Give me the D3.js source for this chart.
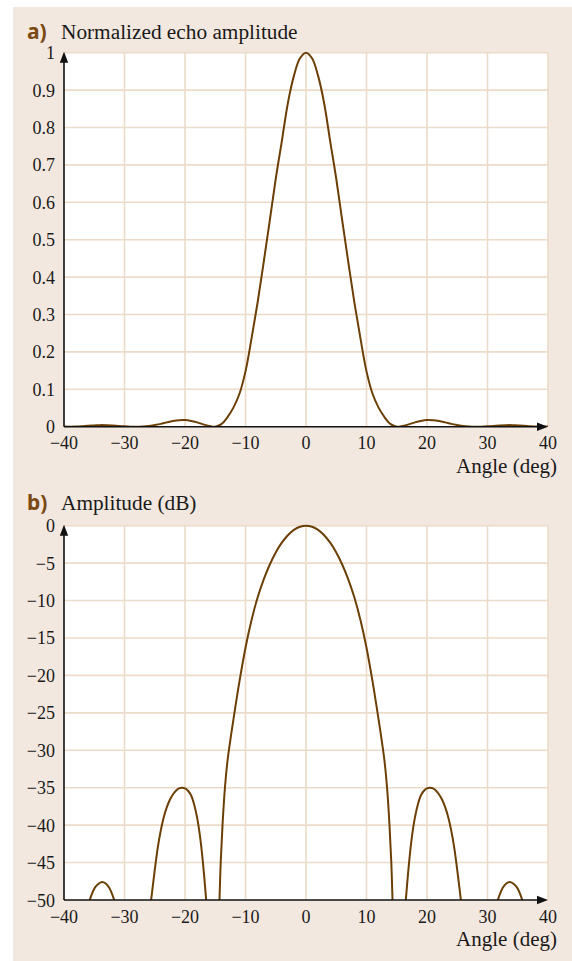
<!DOCTYPE html>
<html>
<head>
<meta charset="utf-8">
<script src="https://cdn.jsdelivr.net/npm/d3@7"></script>
<style>
  html, body { margin: 0; padding: 0; background: #ffffff; }
  svg { display: block; }
</style>
</head>
<body>
<svg id="chart" width="572" height="961"></svg>
<script>
// ---------- data ----------
const xTicks = [-40, -30, -20, -10, 0, 10, 20, 30, 40];
const yTicksA = [0, 0.1, 0.2, 0.3, 0.4, 0.5, 0.6, 0.7, 0.8, 0.9, 1];
const yTickLabelsA = ["0", "0.1", "0.2", "0.3", "0.4", "0.5", "0.6", "0.7", "0.8", "0.9", "1"];
const yTicksB = [0, -5, -10, -15, -20, -25, -30, -35, -40, -45, -50];

// panel a: normalized echo amplitude
const angleA = [-40, -39, -38, -37, -36, -35, -34, -33, -32, -31, -30, -29, -28, -27, -26, -25, -24, -23, -22, -21, -20, -19, -18, -17, -16, -15, -14, -13, -12, -11, -10, -9, -8, -7, -6, -5, -4, -3, -2, -1, 0,
  1, 2, 3, 4, 5, 6, 7, 8, 9, 10, 11, 12, 13, 14, 15, 16, 17, 18, 19, 20, 21, 22, 23, 24, 25, 26, 27, 28, 29, 30, 31, 32, 33, 34, 35, 36, 37, 38, 39, 40];
const amplitude = [0.0005, 0.0002, 0.0005, 0.0015, 0.0028, 0.0035, 0.0042, 0.0040, 0.0033, 0.0020, 0.0009, 0.0002, 0.0002, 0.0008, 0.0020, 0.0045, 0.0075, 0.0115, 0.0150, 0.0173, 0.0176, 0.0155, 0.0115, 0.0062, 0.0020, 0.0, 0.0068, 0.025, 0.051, 0.088, 0.148, 0.236, 0.332, 0.439, 0.550, 0.663, 0.763, 0.865, 0.938, 0.985, 1.0,
  0.985, 0.938, 0.865, 0.763, 0.663, 0.550, 0.439, 0.332, 0.236, 0.148, 0.088, 0.051, 0.025, 0.0068, 0.0, 0.0020, 0.0062, 0.0115, 0.0155, 0.0176, 0.0173, 0.0150, 0.0115, 0.0075, 0.0045, 0.0020, 0.0008, 0.0002, 0.0002, 0.0009, 0.0020, 0.0033, 0.0040, 0.0042, 0.0035, 0.0028, 0.0015, 0.0005, 0.0002, 0.0005];

// panel b: amplitude in dB (null = below the -50 dB floor, not drawn)
const angleB = [-35.75, -35, -34.4, -33.7, -33.1, -32.5, -31.7, -30,
  -25.6, -25, -24.5, -24, -23.5, -23, -22.5, -22, -21.5, -21, -20.5, -20, -19.5, -19, -18.5, -18, -17.5, -17, -16.5, -15.5,
  -14.3, -14.1, -13.8, -13.4, -13, -12.5, -12, -11, -10, -9, -8, -7, -6, -5, -4, -3, -2, -1, 0,
  1, 2, 3, 4, 5, 6, 7, 8, 9, 10, 11, 12, 12.5, 13, 13.4, 13.8, 14.1, 14.3, 15.5,
  16.5, 17, 17.5, 18, 18.5, 19, 19.5, 20, 20.5, 21, 21.5, 22, 22.5, 23, 23.5, 24, 24.5, 25, 25.6, 30,
  31.7, 32.5, 33.1, 33.7, 34.4, 35, 35.75];
const levelDb = [-50, -48.5, -47.9, -47.6, -47.8, -48.4, -50, null,
  -50, -46.0, -43.0, -40.7, -38.9, -37.6, -36.6, -35.9, -35.4, -35.1, -35, -35.08, -35.4, -36.0, -37.2, -39.0, -41.6, -45.3, -50, null,
  -50, -45, -40, -35, -31.6, -28.6, -25.9, -20.8, -16.3, -12.6, -9.6, -7.2, -5.22, -3.58, -2.27, -1.27, -0.56, -0.14, 0,
  -0.14, -0.56, -1.27, -2.27, -3.58, -5.22, -7.2, -9.6, -12.6, -16.3, -20.8, -25.9, -28.6, -31.6, -35, -40, -45, -50, null,
  -50, -45.3, -41.6, -39.0, -37.2, -36.0, -35.4, -35.08, -35, -35.1, -35.4, -35.9, -36.6, -37.6, -38.9, -40.7, -43.0, -46.0, -50, null,
  -50, -48.4, -47.8, -47.6, -47.9, -48.5, -50];

const titleA = "Normalized echo amplitude";
const titleB = "Amplitude (dB)";
const xLabel = "Angle (deg)";

// ---------- drawing ----------
const svg = d3.select("#chart");
const serif = "'Liberation Serif', 'Times New Roman', serif";
const bg = "#f3e8df";
const gridColor = "#ecdbc8";
const curveColor = "#6b3f06";
const tagColor = "#7a4a12";

svg.append("rect").attr("x", 13).attr("y", 7).attr("width", 572 - 13).attr("height", 961 - 7).attr("fill", bg);

const x = d3.scaleLinear().domain([-40, 40]).range([64, 548]);

function fmt(v) { return v < 0 ? "\u2212" + Math.abs(v) : String(v); }

function panel(opts) {
  const { y, yTicks, yLabels, tag, title, titleY, angles, values } = opts;
  const g = svg.append("g");
  const [y0, y1] = y.range(); // bottom, top
  // white plot area
  g.append("rect").attr("x", x(-40)).attr("y", y1).attr("width", x(40) - x(-40)).attr("height", y0 - y1).attr("fill", "#ffffff");
  // grid
  g.selectAll(".gv").data(xTicks.slice(1)).join("line")
    .attr("x1", d => x(d)).attr("x2", d => x(d)).attr("y1", y0).attr("y2", y1)
    .attr("stroke", gridColor).attr("stroke-width", 1.6);
  g.selectAll(".gh").data(yTicks.filter(t => y(t) < y0 - 1)).join("line")
    .attr("x1", x(-40)).attr("x2", x(40)).attr("y1", d => y(d)).attr("y2", d => y(d))
    .attr("stroke", gridColor).attr("stroke-width", 1.6);

  // curve
  const clipId = "clip" + tag;
  svg.append("clipPath").attr("id", clipId).append("rect")
    .attr("x", x(-40)).attr("y", y1 - 3).attr("width", x(40) - x(-40)).attr("height", y0 - y1 + 3);
  const line = d3.line()
    .defined((d, i) => values[i] !== null)
    .x((d, i) => x(angles[i]))
    .y((d, i) => y(values[i]))
    .curve(d3.curveCatmullRom.alpha(0.5));
  g.append("path").datum(angles).attr("d", line)
    .attr("fill", "none").attr("stroke", curveColor).attr("stroke-width", 2)
    .attr("clip-path", "url(#" + clipId + ")");

  // axes with arrows
  g.append("line").attr("x1", x(-40)).attr("x2", x(40) - 8).attr("y1", y0).attr("y2", y0)
    .attr("stroke", "#111").attr("stroke-width", 1.6);
  g.append("path").attr("d", `M${x(40)},${y0} L${x(40) - 11},${y0 - 4.2} L${x(40) - 11},${y0 + 4.2} Z`).attr("fill", "#111");
  g.append("line").attr("x1", x(-40)).attr("x2", x(-40)).attr("y1", y0).attr("y2", y1 + 8)
    .attr("stroke", "#111").attr("stroke-width", 1.6);
  g.append("path").attr("d", `M${x(-40)},${y1 - 1} L${x(-40) - 4.2},${y1 + 10} L${x(-40) + 4.2},${y1 + 10} Z`).attr("fill", "#111");

  // tick labels
  g.selectAll(".yl").data(yTicks).join("text")
    .attr("x", 55).attr("y", d => y(d) + 6.5)
    .attr("text-anchor", "end").attr("font-family", serif).attr("font-size", 18).attr("fill", "#1a1a1a")
    .text((d, i) => yLabels[i]);
  g.selectAll(".xl").data(xTicks).join("text")
    .attr("x", d => x(d)).attr("y", y0 + 22.5)
    .attr("text-anchor", "middle").attr("font-family", serif).attr("font-size", 18).attr("fill", "#1a1a1a")
    .text(d => fmt(d));
  g.append("text").attr("x", 557).attr("y", y0 + 46)
    .attr("text-anchor", "end").attr("font-family", serif).attr("font-size", 21).attr("fill", "#1a1a1a")
    .text(xLabel);

  // titles
  g.append("text").attr("x", 27).attr("y", titleY)
    .attr("font-family", "'Noto Sans', 'Open Sans', sans-serif").attr("font-weight", 700).attr("font-size", 21)
    .attr("fill", tagColor).text(tag + ")");
  g.append("text").attr("x", 61).attr("y", titleY)
    .attr("font-family", serif).attr("font-size", 21.3).attr("fill", "#1a1a1a").text(title);
}

const yA = d3.scaleLinear().domain([0, 1]).range([426.7, 52.7]);
panel({ y: yA, yTicks: yTicksA, yLabels: yTickLabelsA, tag: "a", title: titleA, titleY: 39,
  angles: angleA, values: amplitude });

const yB = d3.scaleLinear().domain([-50, 0]).range([900, 525.7]);
panel({ y: yB, yTicks: yTicksB, yLabels: yTicksB.map(fmt), tag: "b", title: titleB, titleY: 510,
  angles: angleB, values: levelDb });
</script>
</body>
</html>
